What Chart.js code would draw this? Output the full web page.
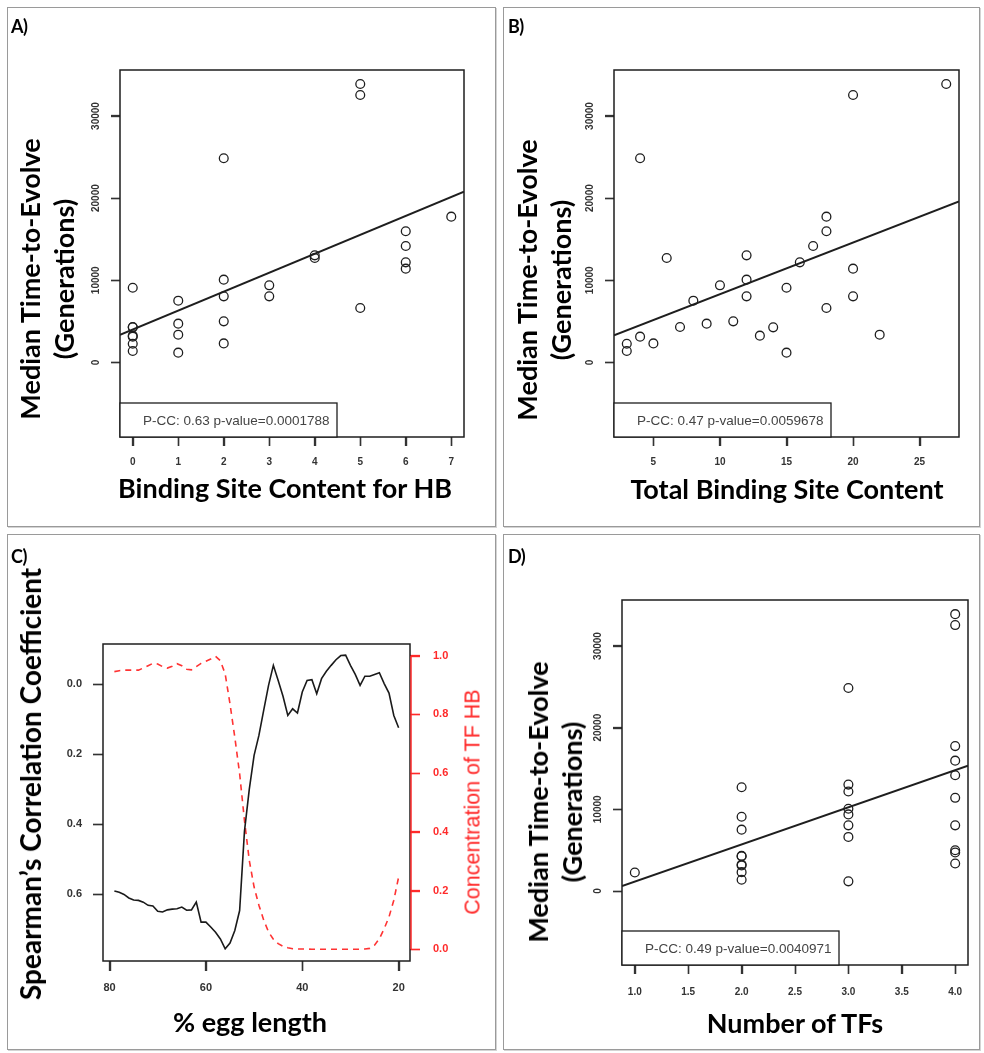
<!DOCTYPE html>
<html><head><meta charset="utf-8">
<script src="https://cdn.jsdelivr.net/npm/chart.js@4.4.1/dist/chart.umd.min.js"></script>
<style>
html,body{margin:0;padding:0;background:#fff;}
body{width:984px;height:1053px;position:relative;overflow:hidden;font-family:Lato,"Open Sans",sans-serif;}
.panel{position:absolute;box-sizing:border-box;border:1px solid #9a9a9a;box-shadow:1px 1px 0 #d4d4d4;}
.plabel{position:absolute;font:bold 18px Lato,sans-serif;line-height:1;color:#000;letter-spacing:-0.5px;}
.ttl{position:absolute;font:bold 27px Lato,sans-serif;line-height:1;color:#000;white-space:pre;text-align:center;}
.ttl2{line-height:34px;}
.red{font:21.5px "Liberation Sans",Arial,sans-serif;color:#ff2a2a;}
canvas{position:absolute;}
</style></head><body>
<script>
// ---------- data ----------
// Panel A: binding site content for HB vs median time-to-evolve
const hbSites = [0,0,0,0,0,0,0, 1,1,1,1, 2,2,2,2,2, 3,3, 4,4, 5,5,5, 6,6,6,6, 7];
const hbTime  = [9090,4300,4260,3250,3130,2270,1380, 7510,4710,3370,1180, 24850,10070,8040,4990,2310, 9380,8040, 13030,12710, 33900,32560,6620, 15960,14170,12180,11410, 17740];
// Panel B: total binding site content
const totalSites = [3,3,4,4,5,6,7,8,9,10,11,12,12,12,13,14,15,15,16,17,18,18,18,20,20,20,22,27];
const totalTime  = [2270,1380,24850,3130,2310,12710,4300,7510,4710,9380,4990,13030,10070,8040,3250,4260,9090,1180,12180,14170,17740,15960,6620,32560,11410,8040,3370,33900];
// Panel D: number of TFs
const tfCount = [1, 2,2,2,2,2,2,2,2,2, 3,3,3,3,3,3,3,3, 4,4,4,4,4,4,4,4,4,4];
const tfTime  = [2270, 12710,9090,7510,4300,4260,3250,3130,2310,1380, 24850,13030,12180,10070,9380,8040,6620,1180, 33900,32560,17740,15960,14170,11410,8040,4990,4710,3370];
// Panel C: % egg length, Spearman correlation, concentration of TF HB
const eggPos = [79,78,77,76,75,74,73,72,71,70,69,68,67,66,65,64,63,62,61,60,59,58,57,56,55,54,53,52,51,50,49,48,47,46,45,44,43,42,41,40,39,38,37,36,35,34,33,32,31,30,29,28,27,26,25,24,23,22,21,20];
const spearman = [0.590,0.594,0.600,0.610,0.616,0.617,0.622,0.631,0.633,0.648,
                  0.650,0.644,0.642,0.641,0.636,0.645,0.644,0.622,0.679,0.679,
                  0.693,0.708,0.727,0.755,0.739,0.703,0.646,0.420,0.300,0.203,
                  0.146,0.074,0.003,-0.054,-0.011,0.034,0.089,0.070,0.082,0.022,
                  -0.011,-0.013,0.027,-0.016,-0.037,-0.054,-0.070,-0.082,-0.083,-0.054,
                  -0.028,0.003,-0.023,-0.023,-0.028,-0.033,-0.002,0.025,0.089,0.124];
const hbConc = [0.946,0.949,0.951,0.951,0.951,0.951,0.958,0.966,0.974,0.972,
                0.963,0.958,0.964,0.973,0.966,0.954,0.952,0.963,0.974,0.981,
                0.989,0.998,0.983,0.938,0.836,0.722,0.598,0.439,0.303,0.212,
                0.150,0.099,0.059,0.034,0.019,0.010,0.005,0.002,0.001,0.001,
                0.001,0.000,0.000,0.000,0.000,0.000,0.000,0.000,0.000,0.000,
                0.000,0.000,0.001,0.003,0.014,0.036,0.070,0.110,0.167,0.246];
// tick values
const timeTicks = [0,10000,20000,30000];
const hbTicks = [0,1,2,3,4,5,6,7];
const totalTicks = [5,10,15,20,25];
const tfTicks = [1.0,1.5,2.0,2.5,3.0,3.5,4.0];
const eggTicks = [80,60,40,20];
const corrTicks = [0.0,0.2,0.4,0.6];
const concTicks = [0.0,0.2,0.4,0.6,0.8,1.0];
// legend texts
const legendA = 'P-CC: 0.63 p-value=0.0001788';
const legendB = 'P-CC: 0.47 p-value=0.0059678';
const legendD = 'P-CC: 0.49 p-value=0.0040971';

// ---------- helpers ----------
Chart.defaults.font.family = '"Liberation Sans", Arial, sans-serif';
const INK = '#1e1e1e';
function lsFit(xs, ys){
  const n = xs.length;
  const mx = xs.reduce((a,b)=>a+b,0)/n, my = ys.reduce((a,b)=>a+b,0)/n;
  let sxy=0,sxx=0;
  for(let i=0;i<n;i++){ sxy+=(xs[i]-mx)*(ys[i]-my); sxx+=(xs[i]-mx)*(xs[i]-mx); }
  const b = sxy/sxx; return {a: my-b*mx, b};
}
function div(cls, text, style){
  const d=document.createElement('div'); d.className=cls; d.textContent=text;
  Object.assign(d.style, style); document.body.appendChild(d); return d;
}
function centered(cls, text, cx, cy, rot, extra){
  return div(cls, text, Object.assign({left:cx+'px', top:cy+'px',
    transform:'translate(-50%,-50%)'+(rot?' rotate(-90deg)':'')}, extra||{}));
}
function makeCanvas(r){
  const c=document.createElement('canvas'); c.width=r.w; c.height=r.h;
  c.style.left=r.x+'px'; c.style.top=r.y+'px'; c.style.width=r.w+'px'; c.style.height=r.h+'px';
  document.body.appendChild(c); return c;
}
const rBox = {
  id:'rBox',
  afterDraw(chart, args, o){
    const {ctx, chartArea:a} = chart;
    ctx.save();
    // tick marks (R style, outside the box)
    Object.values(chart.scales).forEach(s=>{
      const g = s.options.grid, tl = g.tickLength;
      ctx.strokeStyle = g.tickColor; ctx.lineWidth = 1.4;
      s.ticks.forEach(t=>{
        const p = Math.round(s.getPixelForValue(t.value))+0.5;
        ctx.beginPath();
        if(s.position==='bottom'){ ctx.moveTo(p, a.bottom); ctx.lineTo(p, a.bottom+tl); }
        else if(s.position==='left'){ ctx.moveTo(a.left-tl, p); ctx.lineTo(a.left, p); }
        else if(s.position==='right'){ ctx.moveTo(a.right, p); ctx.lineTo(a.right+tl, p); }
        ctx.stroke();
      });
    });
    ctx.strokeStyle=INK; ctx.lineWidth=1.5;
    ctx.strokeRect(a.left, a.top, a.right-a.left, a.bottom-a.top);
    if(o.legend){
      const w=217, h=34;
      ctx.fillStyle='#fff'; ctx.fillRect(a.left, a.bottom-h, w, h);
      ctx.lineWidth=1.3; ctx.strokeRect(a.left, a.bottom-h, w, h);
      ctx.fillStyle='#444'; ctx.font='13.5px "Liberation Sans", Arial, sans-serif';
      ctx.textBaseline='middle'; ctx.textAlign='left';
      ctx.fillText(o.legend, a.left+23, a.bottom-h/2+1);
    }
    if(o.redAxis){
      const s=chart.scales.y2;
      ctx.strokeStyle='#ff2a2a'; ctx.lineWidth=1.5;
      ctx.beginPath(); ctx.moveTo(a.right+1, s.getPixelForValue(0)); ctx.lineTo(a.right+1, s.getPixelForValue(1)); ctx.stroke();
    }
    ctx.restore();
  }
};
function axis(opts){
  const {min,max,ticks,fmt,size,color,tl,pad,fixed,horizontal,rot,reverse,position,cross} = opts;
  return {
    type:'linear', min, max, reverse:!!reverse, position,
    afterBuildTicks: s=>{ s.ticks = ticks.map(v=>({value:v})); },
    afterFit: s=>{ if(horizontal) s.height=fixed; else s.width=fixed; },
    grid:{display:true, drawOnChartArea:false, drawTicks:true, tickLength:tl, tickColor:color, tickWidth:1.3, color:color},
    border:{display:false},
    ticks:{padding:pad, autoSkip:false, color:color, minRotation:rot||0, maxRotation:rot||0,
      crossAlign: cross||'near',
      font:{size, weight:'bold', family:'"Liberation Sans", Arial, sans-serif'},
      callback: v=>fmt(v)}
  };
}
function pads(rect, area, YW, XH, YW2){
  return {left: area.l-rect.x-YW, top: area.t-rect.y, right: rect.x+rect.w-area.r-(YW2||0), bottom: rect.y+rect.h-area.b-XH};
}
function scatterPanel(p){
  const YW=50, XH=40;
  const f = lsFit(p.xs, p.ys);
  const cv = makeCanvas(p.rect);
  new Chart(cv, {
    type:'scatter',
    data:{datasets:[
      {data:p.xs.map((x,i)=>({x, y:p.ys[i]})), pointRadius:4.4, pointHoverRadius:4.4, pointBorderWidth:1.3,
       borderColor:INK, backgroundColor:'rgba(0,0,0,0)', pointStyle:'circle'},
      {type:'line', data:[{x:p.xMin, y:f.a+f.b*p.xMin},{x:p.xMax, y:f.a+f.b*p.xMax}],
       borderColor:INK, borderWidth:2, pointRadius:0, fill:false}
    ]},
    options:{
      responsive:false, animation:false, devicePixelRatio:1, events:[],
      layout:{padding:pads(p.rect, p.area, YW, XH)},
      plugins:{legend:{display:false}, tooltip:{enabled:false}, rBox:{legend:p.legend}},
      scales:{
        x: axis({min:p.xMin, max:p.xMax, ticks:p.xTicks, fmt:p.xFmt, size:p.xSize, color:'#333', tl:9, pad:p.xPad, fixed:XH, horizontal:true}),
        y: axis({min:p.yMin, max:p.yMax, ticks:timeTicks, fmt:v=>String(v), size:10, color:'#333', tl:9, pad:1, fixed:YW, rot:90, cross:'center'})
      }
    },
    plugins:[rBox]
  });
}

// ---------- panel frames ----------
div('panel','',{left:'7px',top:'7px',width:'489px',height:'520px'});
div('panel','',{left:'503px',top:'7px',width:'477px',height:'520px'});
div('panel','',{left:'7px',top:'534px',width:'489px',height:'516px'});
div('panel','',{left:'503px',top:'534px',width:'477px',height:'516px'});

// ---------- charts ----------
scatterPanel({rect:{x:8,y:8,w:487,h:472}, area:{l:120,t:70,r:464,b:437},
  xs:hbSites, ys:hbTime, xMin:-0.28, xMax:7.28, yMin:-9090, yMax:35600,
  xTicks:hbTicks, xFmt:v=>String(v), xSize:10, xPad:10, legend:legendA});
scatterPanel({rect:{x:504,y:8,w:475,h:472}, area:{l:614,t:70,r:959,b:437},
  xs:totalSites, ys:totalTime, xMin:2.04, xMax:27.96, yMin:-9090, yMax:35600,
  xTicks:totalTicks, xFmt:v=>String(v), xSize:10, xPad:10, legend:legendB});
scatterPanel({rect:{x:504,y:535,w:475,h:475}, area:{l:622,t:600,r:968,b:965},
  xs:tfCount, ys:tfTime, xMin:0.88, xMax:4.12, yMin:-9060, yMax:35630,
  xTicks:tfTicks, xFmt:v=>v.toFixed(1), xSize:10, xPad:12, legend:legendD});

(function(){
  const rect={x:8,y:535,w:487,h:475}, area={l:103,t:644,r:410,b:961};
  const YW=50, XH=40, YW2=50;
  const cv=makeCanvas(rect);
  new Chart(cv,{
    type:'line',
    data:{datasets:[
      {data:eggPos.map((x,i)=>({x, y:spearman[i]})), yAxisID:'y', borderColor:'#1a1a1a', borderWidth:1.6, pointRadius:0, tension:0, fill:false},
      {data:eggPos.map((x,i)=>({x, y:hbConc[i]})), yAxisID:'y2', borderColor:'#ff3333', borderWidth:1.6, borderDash:[6,5], pointRadius:0, tension:0, fill:false}
    ]},
    options:{
      responsive:false, animation:false, devicePixelRatio:1, events:[],
      layout:{padding:pads(rect, area, YW, XH, YW2)},
      plugins:{legend:{display:false}, tooltip:{enabled:false}, rBox:{redAxis:true}},
      scales:{
        x: axis({min:17.64, max:81.36, reverse:true, ticks:eggTicks, fmt:v=>String(v), size:11, color:'#333', tl:10, pad:10, fixed:XH, horizontal:true}),
        y: axis({min:-0.115, max:0.79, reverse:true, position:'left', ticks:corrTicks, fmt:v=>v.toFixed(1), size:11, color:'#333', tl:10, pad:11, fixed:YW}),
        y2: axis({min:-0.04, max:1.04, position:'right', ticks:concTicks, fmt:v=>v.toFixed(1), size:11, color:'#ff2a2a', tl:10, pad:13, fixed:YW2})
      }
    },
    plugins:[rBox]
  });
})();

// ---------- text overlays ----------
div('plabel','A)',{left:'11px',top:'17px'});
div('plabel','B)',{left:'508px',top:'17px'});
div('plabel','C)',{left:'11px',top:'547px'});
div('plabel','D)',{left:'508px',top:'547px'});

centered('ttl','Binding Site Content for HB',285,487,false);
centered('ttl','Total Binding Site Content',787,488,false);
centered('ttl','% egg length',250,1021,false);
centered('ttl','Number of TFs',795,1022,false);

centered('ttl ttl2','Median Time-to-Evolve\n(Generations)',47,279,true);
centered('ttl ttl2','Median Time-to-Evolve\n(Generations)',544,280,true);
centered('ttl ttl2','Median Time-to-Evolve\n(Generations)',555,802,true);
centered('ttl','Spearman\u2019s Correlation Coefficient',30,784,true,{fontSize:'28px'});
centered('ttl red','Concentration of TF HB',473,802,true,{fontWeight:'normal'});
</script>
</body></html>
